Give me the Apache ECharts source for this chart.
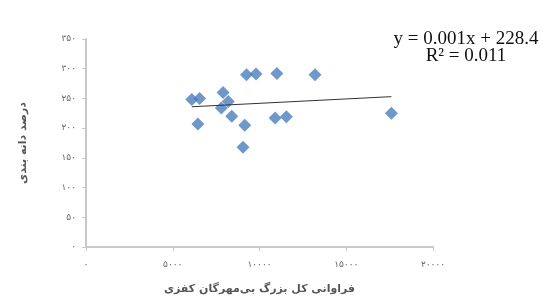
<!DOCTYPE html>
<html>
<head>
<meta charset="utf-8">
<script src="https://cdn.jsdelivr.net/npm/echarts@6/dist/echarts.min.js"></script>
<style>
html,body{margin:0;padding:0;background:#fff;}
#c{width:552px;height:304px;}
</style>
</head>
<body>
<div id="c"></div>
<script>
// Data
const xValues = [6100, 6550, 7900, 8200, 7800, 8400, 9150, 6450, 9050, 9250, 9800, 11000, 13200, 10900, 11550, 17600];
const yValues = [248, 250, 260, 245, 234, 220, 205, 207, 168, 290, 291, 292, 290, 217, 219, 225];
const trendX = [6100, 17600];
const trendY = [236, 253];
const xTicks = [0, 5000, 10000, 15000, 20000];
const yTicks = [0, 50, 100, 150, 200, 250, 300, 350];
const equationText = 'y = 0.001x + 228.4';
const r2Text = 'R² = 0.011';
const xTitle = 'فراوانی کل بزرگ بی‌مهرگان کفزی';
const yTitle = 'درصد دانه بندی';

const fa = ['۰','۱','۲','۳','۴','۵','۶','۷','۸','۹'];
function toFa(v){ return String(v).replace(/[0-9]/g, d => fa[+d]); }

const points = xValues.map((x, i) => [x, yValues[i]]);
const trend = trendX.map((x, i) => [x, trendY[i]]);

const chart = echarts.init(document.getElementById('c'), null, {renderer: 'canvas'});
chart.setOption({
  animation: false,
  backgroundColor: '#fff',
  grid: {left: 86, right: 119, top: 39, bottom: 57},
  xAxis: {
    type: 'value',
    min: xTicks[0], max: xTicks[xTicks.length - 1], interval: 5000,
    splitLine: {show: false},
    axisLine: {show: true, lineStyle: {color: '#c8c8c8', width: 2}},
    axisTick: {show: true, length: 4, lineStyle: {color: '#c8c8c8'}},
    axisLabel: {formatter: v => toFa(v), color: '#666', fontSize: 9, margin: 13, fontFamily: 'DejaVu Sans'},
    name: xTitle, nameLocation: 'middle', nameGap: 37,
    nameTextStyle: {color: '#555', fontSize: 11, fontWeight: 'bold', fontFamily: 'DejaVu Sans'}
  },
  yAxis: {
    type: 'value',
    min: yTicks[0], max: yTicks[yTicks.length - 1], interval: 50,
    splitLine: {show: false},
    axisLine: {show: true, lineStyle: {color: '#c8c8c8', width: 2}},
    axisTick: {show: true, length: 4, lineStyle: {color: '#c8c8c8'}},
    axisLabel: {formatter: v => toFa(v), color: '#666', fontSize: 9, margin: 10, fontFamily: 'DejaVu Sans'},
    name: yTitle, nameLocation: 'middle', nameGap: 57, nameRotate: 90,
    nameTextStyle: {color: '#555', fontSize: 11, fontWeight: 'bold', fontFamily: 'DejaVu Sans'}
  },
  series: [
    {
      type: 'scatter',
      data: points,
      symbol: 'diamond',
      symbolSize: 13,
      itemStyle: {color: '#4a7ebb'},
      z: 3
    },
    {
      type: 'line',
      data: trend,
      symbol: 'none',
      lineStyle: {color: '#333', width: 1},
      z: 4
    }
  ],
  graphic: [
    {type: 'text', x: 466, y: 39, style: {text: equationText, textAlign: 'center', textVerticalAlign: 'middle', font: '19px "Liberation Serif"', fill: '#111'}},
    {type: 'text', x: 466, y: 56, style: {text: r2Text, textAlign: 'center', textVerticalAlign: 'middle', font: '19px "Liberation Serif"', fill: '#111'}}
  ]
});
</script>
</body>
</html>
